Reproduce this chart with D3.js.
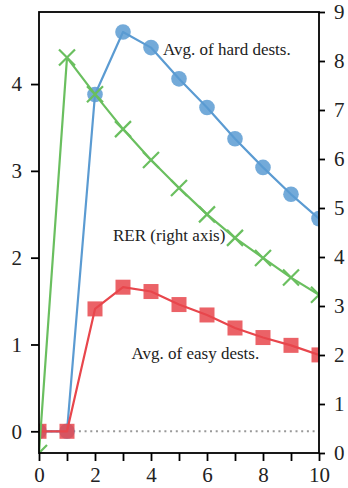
<!DOCTYPE html>
<html>
<head>
<meta charset="utf-8">
<script src="https://cdn.jsdelivr.net/npm/d3@7"></script>
<style>
  html, body { margin: 0; padding: 0; background: #fff; }
  svg text { font-family: "Liberation Serif", "DejaVu Serif", serif; fill: #222; }
</style>
</head>
<body>
<svg id="chart" width="348" height="488"></svg>
<script>
// Horizontal positions (shared by all series)
const steps = [0, 1, 2, 3, 4, 5, 6, 7, 8, 9, 10];
// Left axis series
const hardDests = [0, 0, 3.88, 4.60, 4.42, 4.06, 3.73, 3.37, 3.04, 2.73, 2.45];
const easyDests = [0, 0, 1.41, 1.66, 1.61, 1.46, 1.34, 1.19, 1.08, 0.99, 0.88];
// Right axis series
const rer = [0, 8.07, 7.32, 6.61, 5.98, 5.41, 4.87, 4.39, 3.98, 3.58, 3.23];
// Tick values
const xTicks = [0, 1, 2, 3, 4, 5, 6, 7, 8, 9, 10];
const xLabels = [0, 2, 4, 6, 8, 10];
const leftTicks = [0, 1, 2, 3, 4];
const rightTicks = [0, 1, 2, 3, 4, 5, 6, 7, 8, 9];
// Series annotations
const seriesNames = ["Avg. of hard dests.", "Avg. of easy dests.", "RER (right axis)"];

const W = 348, H = 488;
const margin = { top: 12, right: 29, bottom: 35, left: 39 };
const svg = d3.select("#chart");

const x = d3.scaleLinear().domain([0, 10]).range([margin.left, W - margin.right]);
const yL = d3.scaleLinear().domain([-0.25, 4.83]).range([H - margin.bottom, margin.top]);
const yR = d3.scaleLinear().domain([0, 9]).range([H - margin.bottom, margin.top]);

const colors = { hard: "#5b9bd2", easy: "#e8464c", rer: "#6abf5f" };

svg.append("defs").append("clipPath").attr("id", "plot-clip")
  .append("rect")
  .attr("x", margin.left).attr("y", margin.top)
  .attr("width", W - margin.left - margin.right)
  .attr("height", H - margin.top - margin.bottom);

const plot = svg.append("g").attr("clip-path", "url(#plot-clip)");

// zero reference line
plot.append("line")
  .attr("x1", x(0)).attr("x2", x(10))
  .attr("y1", yL(0)).attr("y2", yL(0))
  .attr("stroke", "#999").attr("stroke-width", 2)
  .attr("stroke-dasharray", "2,3.7");

function drawLine(values, yScale, color) {
  const line = d3.line().x((d, i) => x(steps[i])).y(d => yScale(d));
  plot.append("path").datum(values)
    .attr("d", line)
    .attr("fill", "none")
    .attr("stroke", color)
    .attr("stroke-width", 2.2)
    .attr("stroke-linejoin", "round");
}

// hard destinations: circles
drawLine(hardDests, yL, colors.hard);
plot.append("g").selectAll("circle").data(hardDests).join("circle")
  .attr("cx", (d, i) => x(steps[i])).attr("cy", d => yL(d))
  .attr("r", 7.8).attr("fill", colors.hard).attr("fill-opacity", 0.85);

// easy destinations: squares
const sq = 15;
drawLine(easyDests, yL, colors.easy);
plot.append("g").selectAll("rect").data(easyDests).join("rect")
  .attr("x", (d, i) => x(steps[i]) - sq / 2).attr("y", d => yL(d) - sq / 2)
  .attr("width", sq).attr("height", sq)
  .attr("fill", colors.easy).attr("fill-opacity", 0.85);

// RER: crosses
const xs = 8;
drawLine(rer, yR, colors.rer);
plot.append("g").selectAll("path").data(rer).join("path")
  .attr("d", (d, i) => {
    const cx = x(steps[i]), cy = yR(d);
    return `M${cx - xs},${cy - xs}L${cx + xs},${cy + xs}M${cx - xs},${cy + xs}L${cx + xs},${cy - xs}`;
  })
  .attr("stroke", colors.rer).attr("stroke-width", 2.2).attr("fill", "none");

// frame
svg.append("rect")
  .attr("x", margin.left).attr("y", margin.top)
  .attr("width", W - margin.left - margin.right)
  .attr("height", H - margin.top - margin.bottom)
  .attr("fill", "none").attr("stroke", "#000").attr("stroke-width", 1.8);

function styleAxis(g) {
  g.attr("font-family", null).attr("font-size", null);
  g.select(".domain").remove();
  g.selectAll(".tick line").attr("stroke", "#000").attr("stroke-width", 1.8);
  g.selectAll(".tick text")
    .style("font-family", "'Liberation Serif', 'DejaVu Serif', serif")
    .style("font-size", "21px").attr("fill", "#222");
}

svg.append("g")
  .attr("transform", `translate(0,${H - margin.bottom})`)
  .call(d3.axisBottom(x).tickValues(xTicks).tickSize(8).tickPadding(6)
    .tickFormat(d => xLabels.includes(d) ? d : ""))
  .call(styleAxis);

svg.append("g")
  .attr("transform", `translate(${margin.left},0)`)
  .call(d3.axisLeft(yL).tickValues(leftTicks).tickSize(8).tickPadding(9)
    .tickFormat(d3.format("d")))
  .call(styleAxis);

svg.append("g")
  .attr("transform", `translate(${W - margin.right},0)`)
  .call(d3.axisRight(yR).tickValues(rightTicks).tickSize(6).tickPadding(9)
    .tickFormat(d3.format("d")))
  .call(styleAxis);

// series annotations
const annot = [
  { text: seriesNames[0], x: 163, y: 55 },
  { text: seriesNames[2], x: 113, y: 240.5 },
  { text: seriesNames[1], x: 131.5, y: 359 }
];
svg.append("g").selectAll("text").data(annot).join("text")
  .attr("x", d => d.x).attr("y", d => d.y)
  .style("font-size", "17px")
  .text(d => d.text);
</script>
</body>
</html>
